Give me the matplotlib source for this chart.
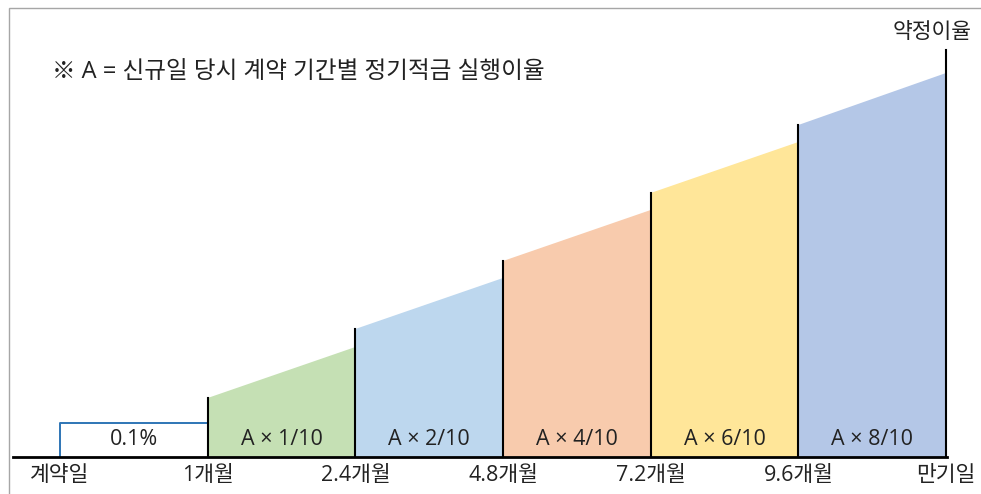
import matplotlib.pyplot as plt
from matplotlib.patches import Rectangle


plt.rcParams["font.family"] = ["Open Sans", "Noto Sans CJK KR", "DejaVu Sans"]

# points on the time axis (equally spaced in the drawing)
periods = ["계약일", "1개월", "2.4개월", "4.8개월", "7.2개월", "9.6개월", "만기일"]

# rate bands between the periods
band_labels = ["0.1%", "A × 1/10", "A × 2/10", "A × 4/10", "A × 6/10", "A × 8/10"]
rate_start = [34, 59, 128, 196, 264, 332]
rate_end = [34, 110, 179, 247, 315, 384]
rate_contract = 407

band_colors = ["none", "#C5E0B4", "#BDD7EE", "#F8CBAD", "#FFE699", "#B4C7E7"]
note = "※ A = 신규일 당시 계약 기간별 정기적금 실행이율"


fig = plt.figure(figsize=(9.81, 4.94), dpi=100)
ax = fig.add_axes([0, 0, 1, 1])
ax.set_xlim(-60 / 147.67, 921 / 147.67)
ax.set_ylim(-37, 457)
ax.axis("off")

# frame (only left and top edges are visible)
fig.add_artist(Rectangle((9 / 981, -0.1), 2, (494 - 8) / 494 + 0.1,
                         transform=fig.transFigure, fill=False,
                         edgecolor="#A6A6A6", lw=1.0, clip_on=False))

x = list(range(len(periods)))

# 0.1% box
ax.plot([x[0], x[0], x[1]], [0, rate_start[0], rate_start[0]],
        color="#2E75B6", lw=1.4, solid_capstyle="butt")

# rising bands
for i in range(1, len(band_labels)):
    ax.fill([x[i], x[i], x[i + 1], x[i + 1]],
            [0, rate_start[i], rate_end[i], 0],
            color=band_colors[i], lw=0)

# vertical dividers
for i in range(1, len(band_labels)):
    ax.plot([x[i], x[i]], [0, rate_start[i]], color="black", lw=1.5)
ax.plot([x[-1], x[-1]], [0, rate_contract], color="black", lw=1.5)

# base line
ax.plot([-47 / 147.67, x[-1] + 1 / 147.67], [0, 0], color="black", lw=2)

fs = 15.5
for i, lab in enumerate(band_labels):
    ax.text((x[i] + x[i + 1]) / 2, 18, lab, ha="center", va="center",
            fontsize=fs, color="#222222")

for i, lab in enumerate(periods):
    ax.text(x[i], -18, lab, ha="center", va="center", fontsize=fs,
            color="#222222")

ax.text(x[-1] - 14 / 147.67, 424, "약정이율", ha="center", va="center",
        fontsize=fs, color="#222222")
ax.text(-8 / 147.67, 385, note, ha="left", va="center", fontsize=17,
        color="#222222")

plt.savefig("out.png", dpi=100)
plt.close()
